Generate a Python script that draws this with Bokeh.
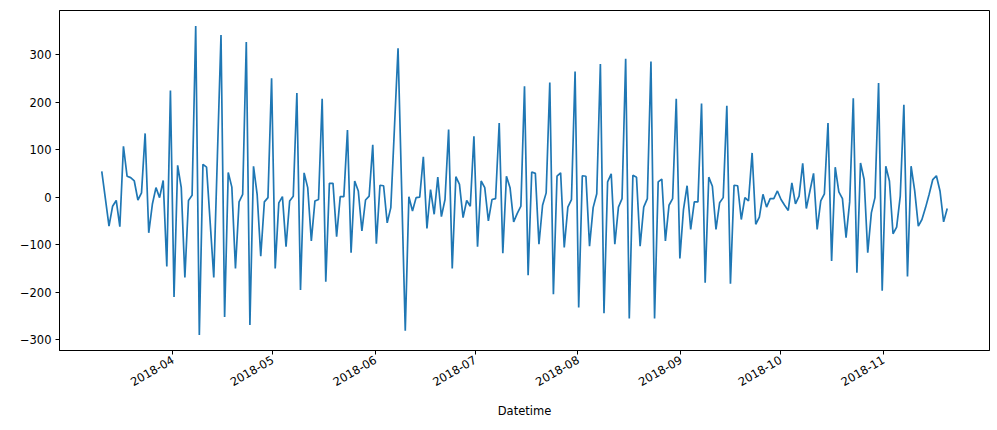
import numpy as np
import pandas as pd
from math import pi
from bokeh.plotting import figure
from bokeh.models import (Range1d, FixedTicker, CustomJSTickFormatter,
                          SingleIntervalTicker, ColumnDataSource)
from bokeh.embed import file_html
from bokeh.resources import INLINE

start_time = "2018-03-10 14:00"
end_time = "2018-11-20 05:00"

tick_months = ["2018-04-01", "2018-05-01", "2018-06-01", "2018-07-01",
               "2018-08-01", "2018-09-01", "2018-10-01", "2018-11-01"]

values = [
    54, -3, -61, -19, -7, -62, 107, 44, 41, 34,
    -6, 9, 134, -75, -15, 20, -1, 35, -146, 224,
    -210, 67, 20, -169, -7, 4, 360, -290, 69, 63,
    -53, -169, 86, 341, -252, 52, 21, -150, -10, 6,
    326, -269, 65, 6, -124, -10, -1, 250, -150, -12,
    1, -104, -8, 2, 219, -195, 51, 20, -92, -8,
    -5, 207, -178, 29, 29, -83, 1, 1, 141, -117,
    34, 13, -71, -6, 2, 110, -98, 25, 24, -54,
    -22, 145, 313, 16, -281, 1, -29, -1, 0, 85,
    -66, 16, -36, 42, -41, -5, 142, -150, 43, 27,
    -43, -7, -19, 128, -104, 34, 20, -50, -5, -3,
    156, -118, 44, 20, -52, -34, -19, 233, -164, 53,
    50, -99, -17, 9, 241, -204, 44, 51, -106, -21,
    -5, 264, -232, 45, 44, -103, -22, 7, 280, -244,
    32, 49, -99, -21, -3, 291, -255, 46, 42, -103,
    -21, -3, 285, -255, 32, 38, -92, -17, -3, 207,
    -129, -26, 24, -68, -10, -10, 197, -180, 42, 23,
    -68, -12, -1, 192, -182, 25, 24, -47, -1, -8,
    93, -57, -42, 6, -21, -3, -3, 13, -5, -17,
    -28, 30, -14, 2, 71, -24, 13, 50, -68, -8,
    7, 156, -134, 63, 11, -3, -85, -10, 208, -159,
    72, 37, -117, -33, -1, 240, -197, 65, 34, -77,
    -63, 2, 194, -167, 65, 13, -61, -47, -22, 6,
    37, 45, 13, -52, -24,
]

dates = pd.date_range(start_time, end_time, periods=len(values))
src = ColumnDataSource(dict(x=dates, y=values))

t0 = dates[0].value / 1e6
t1 = dates[-1].value / 1e6
tp = (t1 - t0) * 0.05
ymin, ymax = min(values), max(values)
yp = (ymax - ymin) * 0.05

FONT = "DejaVu Sans"
FS = "11.5px"

p = figure(frame_width=930, frame_height=340, x_axis_type="datetime",
           output_backend="svg", toolbar_location=None,
           min_border_left=59, min_border_right=8, min_border_top=10,
           min_border_bottom=80,
           x_range=Range1d(t0 - tp, t1 + tp),
           y_range=Range1d(ymin - yp, ymax + yp))

p.line(x="x", y="y", source=src, line_color="#1f77b4", line_width=1.7)

p.xgrid.visible = False
p.ygrid.visible = False
p.outline_line_color = "black"
p.outline_line_width = 1
p.outline_line_alpha = 1

month_ms = [pd.Timestamp(m).value / 1e6 for m in tick_months]
p.xaxis.ticker = FixedTicker(ticks=month_ms)
p.xaxis.formatter = CustomJSTickFormatter(code="""
    const d = new Date(tick);
    const m = d.getUTCMonth() + 1;
    return d.getUTCFullYear() + '-' + (m < 10 ? '0' + m : '' + m);
""")
p.yaxis.ticker = SingleIntervalTicker(interval=100, num_minor_ticks=0)
p.yaxis.formatter = CustomJSTickFormatter(code="""
    return tick < 0 ? '\u2212' + Math.abs(tick) : '' + tick;
""")

for ax in (p.xaxis[0], p.yaxis[0]):
    ax.axis_line_color = "black"
    ax.major_tick_line_color = "black"
    ax.major_tick_out = 4
    ax.major_tick_in = 0
    ax.minor_tick_line_color = None
    ax.major_label_text_font = FONT
    ax.major_label_text_font_size = FS
    ax.major_label_text_color = "black"
    ax.major_label_standoff = 4

p.xaxis.major_label_orientation = pi / 6
p.xaxis.axis_label = "Datetime"
p.xaxis.axis_label_text_font = FONT
p.xaxis.axis_label_text_font_size = FS
p.xaxis.axis_label_text_font_style = "normal"
p.xaxis.axis_label_text_color = "black"
p.xaxis.axis_label_standoff = 11

open("out.html", "w").write(file_html(p, INLINE))
